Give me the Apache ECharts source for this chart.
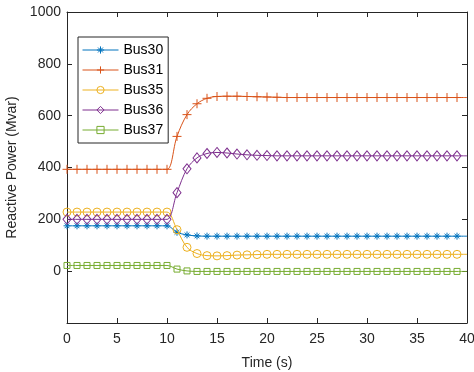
<!DOCTYPE html>
<html><head><meta charset="utf-8">
<script src="https://cdn.jsdelivr.net/npm/echarts@6/dist/echarts.min.js"></script>
<style>html,body{margin:0;padding:0;background:#fff}#c{width:474px;height:372px}</style>
</head><body><div id="c"></div>
<script>
const time = [0,1,2,3,4,5,6,7,8,9,10,11,12,13,14,15,16,17,18,19,20,21,22,23,24,25,26,27,28,29,30,31,32,33,34,35,36,37,38,39,40];
const bus30 = [175,175,175,175,175,175,175,175,175,175,175,150,140,136,135,135,135,135,135,135,135,135,135,135,135,135,135,135,135,135,135,135,135,135,135,135,135,135,135,135,135];
const bus31 = [393,393,393,393,393,393,393,393,393,393,393,520,604,646,667,674,675,675,674,673,672,671,670,670,670,670,670,670,670,670,670,670,670,670,670,670,670,670,670,670,670];
const bus35 = [228,228,228,228,228,228,228,228,228,228,228,160,92,68,60,59,60,62,63,64,65,65,65,65,65,65,65,65,65,65,65,65,65,65,65,65,65,65,65,65,65];
const bus36 = [200,200,200,200,200,200,200,200,200,200,200,303,395,437,454,458,456,452,449,447,446,445,445,445,445,445,445,445,445,445,445,445,445,445,445,445,445,445,445,445,445];
const bus37 = [22,22,22,22,22,22,22,22,22,22,22,8,1,-1,-1,-1,-1,-1,-1,-1,-1,-1,-1,-1,-1,-1,-1,-1,-1,-1,-1,-1,-1,-1,-1,-1,-1,-1,-1,-1,-1];
const names = ['Bus30','Bus31','Bus35','Bus36','Bus37'];
const yTicks = [0,200,400,600,800,1000];

const colors = ['#0072BD','#D95319','#EDB120','#7E2F8E','#77AC30'];
const symbols = [
  'path://M5,0L5,10M0,5L10,5M1.6,1.6L8.4,8.4M1.6,8.4L8.4,1.6',
  'path://M5,0L5,10M0,5L10,5',
  'circle','diamond','rect'
];
const sizes = [7,9,8,[8,10],6];
const all = [bus30,bus31,bus35,bus36,bus37];
const font = 'Liberation Sans, Arial, Helvetica, sans-serif';
const ax = '#262626';

function mk(i){
  return {
    name: names[i], type:'line',
    data: time.map((t,k)=> k===time.length-1 ? {value:[t,all[i][k]], symbol:'none'} : [t,all[i][k]]),
    symbol: symbols[i], symbolSize: sizes[i], showAllSymbol:true,
    smooth: 0.35,
    lineStyle:{color:colors[i], width:1},
    itemStyle:{color:'rgba(255,255,255,0)', borderColor:colors[i], borderWidth:1},
    emphasis:{disabled:true},
    animation:false, z: 2+i
  };
}
const chart = echarts.init(document.getElementById('c'));
const axisCommon = {
  axisLine:{show:true, onZero:false, lineStyle:{color:ax, width:1}},
  axisTick:{show:true, inside:true, length:5, lineStyle:{color:ax}},
  splitLine:{show:false}
};
chart.setOption({
  backgroundColor:'#fff',
  animation:false,
  textStyle:{fontFamily:font},
  grid:{left:67, right:7, top:12, bottom:49, containLabel:false, outerBoundsMode:'none'},
  legend:{
    left:78, top:37, orient:'vertical',
    data: names,
    itemWidth:36, itemHeight:9, itemGap:4,
    padding:[5,5,5,4],
    borderColor:ax, borderWidth:1, backgroundColor:'#fff',
    lineStyle:{width:1},
    itemStyle:{color:'rgba(255,255,255,0)', borderWidth:1},
    textStyle:{fontFamily:font, fontSize:14, color:'#000', lineHeight:16},
    selectedMode:false
  },
  xAxis:[
    Object.assign({type:'value', min:0, max:40, interval:5,
      name:'Time (s)', nameLocation:'middle', nameGap:33,
      nameTextStyle:{fontSize:14, color:ax, fontFamily:font},
      axisLabel:{fontSize:14, color:ax, margin:9, fontFamily:font}}, axisCommon),
    Object.assign({type:'value', min:0, max:40, interval:5, position:'top',
      axisLabel:{show:false}}, axisCommon)
  ],
  yAxis:[
    Object.assign({type:'value', min:-200, max:1000, interval:200,
      name:'Reactive Power (Mvar)', nameLocation:'middle', nameGap:42,
      nameTextStyle:{fontSize:14, color:ax, fontFamily:font},
      axisLabel:{fontSize:14, color:ax, margin:6, fontFamily:font,
        formatter:v=> yTicks.indexOf(v)>=0 ? String(v) : ''}}, axisCommon),
    Object.assign({type:'value', min:-200, max:1000, interval:200, position:'right',
      axisLabel:{show:false}}, axisCommon)
  ],
  series:[0,1,2,3,4].map(mk)
});
</script></body></html>
